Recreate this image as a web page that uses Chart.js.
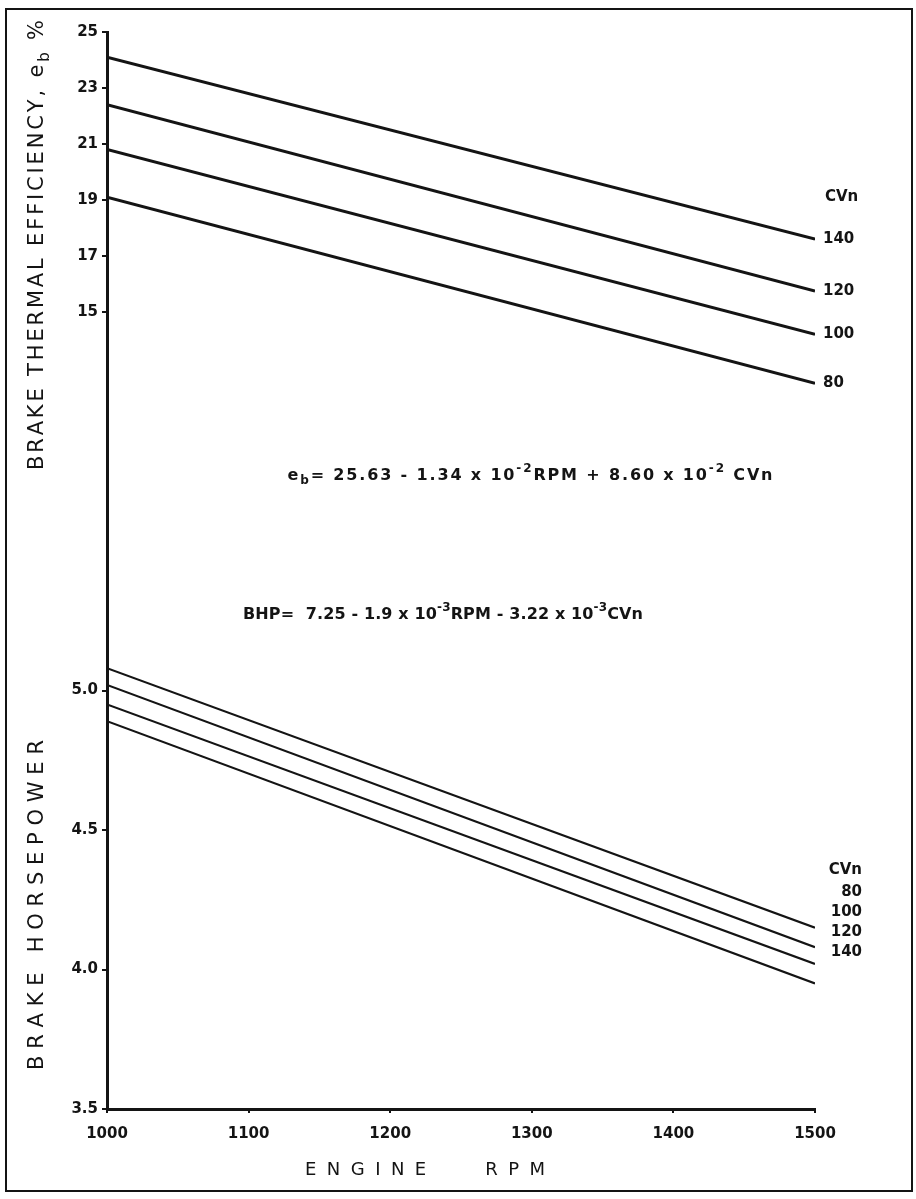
<!DOCTYPE html>
<html>
<head>
<meta charset="utf-8">
<script src="https://cdn.jsdelivr.net/npm/chart.js@4.4.1/dist/chart.umd.min.js"></script>
<style>
  html, body { margin: 0; padding: 0; background: #fff; }
  #wrap { width: 916px; height: 1199px; }
</style>
</head>
<body>
<div id="wrap"><canvas id="brakeChart"></canvas></div>
<script>
// engine speed at the two ends of every line
const rpm = [1000, 1500];

// brake thermal efficiency, % (CVn 140, 120, 100, 80)
const eff140 = [24.1, 17.6];
const eff120 = [22.4, 15.75];
const eff100 = [20.8, 14.2];
const eff80 = [19.1, 12.45];

// brake horsepower (CVn 80, 100, 120, 140)
const bhp80 = [5.08, 4.15];
const bhp100 = [5.02, 4.08];
const bhp120 = [4.95, 4.02];
const bhp140 = [4.89, 3.95];

const effCvn = ['140', '120', '100', '80'];
const bhpCvn = ['80', '100', '120', '140'];

// tick labels
const rpmTicks = [1000, 1100, 1200, 1300, 1400, 1500];
const effTicks = [15, 17, 19, 21, 23, 25];
const bhpTicks = [3.5, 4.0, 4.5, 5.0];

const INK = '#141414';

function toPoints(vals) {
  return rpm.map((x, i) => ({ x: x, y: vals[i] }));
}

function lineSet(label, vals, axis, width) {
  return {
    label: label,
    data: toPoints(vals),
    yAxisID: axis,
    borderColor: INK,
    borderWidth: width,
    pointRadius: 0,
    fill: false,
    tension: 0
  };
}

const effSets = [eff140, eff120, eff100, eff80];
const bhpSets = [bhp80, bhp100, bhp120, bhp140];

const datasets = [];
effSets.forEach((v, i) => datasets.push(lineSet('e_b CVn ' + effCvn[i], v, 'yEff', 3)));
bhpSets.forEach((v, i) => datasets.push(lineSet('BHP CVn ' + bhpCvn[i], v, 'yBhp', 2.2)));

// draw a string made of parts (normal / sup / sub) with letters spread to a length
function spreadParts(ctx, parts, cx, cy, size, weight, target) {
  const chars = [];
  parts.forEach(p => {
    const fs = (p.sup || p.sub) ? Math.round(size * 0.72) : size;
    const dy = p.sup ? -size * 0.42 : (p.sub ? size * 0.32 : 0);
    for (const ch of p.t) {
      ctx.font = weight + ' ' + fs + 'px "DejaVu Sans"';
      chars.push({ ch: ch, fs: fs, dy: dy, w: ctx.measureText(ch).width });
    }
  });
  const natural = chars.reduce((s, c) => s + c.w, 0);
  const gap = target ? (target - natural) / (chars.length - 1) : 0;
  const total = target || natural;
  let x = cx - total / 2;
  ctx.textAlign = 'left';
  ctx.textBaseline = 'middle';
  chars.forEach(c => {
    ctx.font = weight + ' ' + c.fs + 'px "DejaVu Sans"';
    ctx.fillText(c.ch, x, cy + c.dy);
    x += c.w + gap;
  });
}

const annotate = {
  id: 'annotate',
  afterDraw(chart) {
    const ctx = chart.ctx;
    const xs = chart.scales.x;
    const ye = chart.scales.yEff;
    const yb = chart.scales.yBhp;
    ctx.save();
    ctx.fillStyle = INK;

    // page frame of the scanned figure
    ctx.strokeStyle = INK;
    ctx.lineWidth = 2;
    ctx.strokeRect(6, 9, 906, 1182);

    // axis titles
    ctx.save();
    ctx.translate(38, 245);
    ctx.rotate(-Math.PI / 2);
    spreadParts(ctx, [{ t: 'BRAKE THERMAL EFFICIENCY, e' }, { t: 'b', sub: true }, { t: ' %' }], 0, 0, 21, 'normal', 450);
    ctx.restore();

    ctx.save();
    ctx.translate(38, 905);
    ctx.rotate(-Math.PI / 2);
    spreadParts(ctx, [{ t: 'BRAKE HORSEPOWER' }], 0, 0, 21, 'normal', 330);
    ctx.restore();

    spreadParts(ctx, [{ t: 'ENGINE   RPM' }], 425, 1170, 18, 'normal', 240);

    // equations
    spreadParts(ctx, [
      { t: 'e' }, { t: 'b', sub: true }, { t: '= 25.63 - 1.34 x 10' }, { t: '-2', sup: true },
      { t: 'RPM + 8.60 x 10' }, { t: '-2', sup: true }, { t: ' CVn' }
    ], 530, 476, 16, 'bold', 485);
    spreadParts(ctx, [
      { t: 'BHP=  7.25 - 1.9 x 10' }, { t: '-3', sup: true },
      { t: 'RPM - 3.22 x 10' }, { t: '-3', sup: true }, { t: 'CVn' }
    ], 443, 615, 16, 'bold', 400);

    // CVn labels, efficiency group: next to the line ends
    ctx.font = 'bold 15px "DejaVu Sans"';
    ctx.textAlign = 'left';
    ctx.textBaseline = 'middle';
    const xEnd = xs.getPixelForValue(rpm[1]);
    effSets.forEach((v, i) => {
      ctx.fillText(effCvn[i], xEnd + 8, ye.getPixelForValue(v[1]));
    });
    ctx.fillText('CVn', xEnd + 10, ye.getPixelForValue(eff140[1]) - 42);

    // CVn labels, horsepower group: stacked list above the line ends
    ctx.textAlign = 'right';
    const listTop = yb.getPixelForValue(bhp80[1]) - 36;
    bhpCvn.forEach((lab, i) => {
      ctx.fillText(lab, xEnd + 47, listTop + i * 20);
    });
    ctx.fillText('CVn', xEnd + 47, listTop - 22);

    ctx.restore();
  }
};

const ctx = document.getElementById('brakeChart').getContext('2d');
new Chart(ctx, {
  type: 'line',
  data: { datasets: datasets },
  plugins: [annotate],
  options: {
    responsive: true,
    maintainAspectRatio: false,
    animation: false,
    layout: { padding: { top: 32, right: 101, bottom: 0, left: 0 } },
    plugins: { legend: { display: false }, tooltip: { enabled: false } },
    scales: {
      x: {
        type: 'linear',
        min: 1000,
        max: 1500,
        afterFit: s => { s.height = 90; },
        afterBuildTicks: s => { s.ticks = rpmTicks.map(v => ({ value: v })); },
        border: { display: true, color: INK, width: 3 },
        grid: { display: true, drawOnChartArea: false, drawTicks: true, tickLength: 4, color: INK, lineWidth: 2 },
        ticks: { color: INK, padding: 12, font: { family: 'DejaVu Sans', size: 15, weight: 'bold' }, maxRotation: 0, callback: v => String(v) }
      },
      // the lower axis is listed first: the stack places the first one at the bottom
      yBhp: {
        type: 'linear',
        position: 'left',
        stack: 'page',
        stackWeight: 558,
        min: 3.5,
        max: 5.5,
        afterFit: s => { s.width = 107; },
        afterBuildTicks: s => { s.ticks = bhpTicks.map(v => ({ value: v })); },
        border: { display: true, color: INK, width: 3 },
        grid: { display: true, drawOnChartArea: false, drawTicks: true, tickLength: 5, color: INK, lineWidth: 2 },
        ticks: { color: INK, padding: 4, font: { family: 'DejaVu Sans', size: 15, weight: 'bold' }, callback: v => v.toFixed(1) }
      },
      yEff: {
        type: 'linear',
        position: 'left',
        stack: 'page',
        stackWeight: 519,
        min: 6.46,
        max: 25,
        afterFit: s => { s.width = 107; },
        afterBuildTicks: s => { s.ticks = effTicks.map(v => ({ value: v })); },
        border: { display: true, color: INK, width: 3 },
        grid: { display: true, drawOnChartArea: false, drawTicks: true, tickLength: 5, color: INK, lineWidth: 2 },
        ticks: { color: INK, padding: 4, font: { family: 'DejaVu Sans', size: 15, weight: 'bold' } }
      }
    }
  }
});
</script>
</body>
</html>
